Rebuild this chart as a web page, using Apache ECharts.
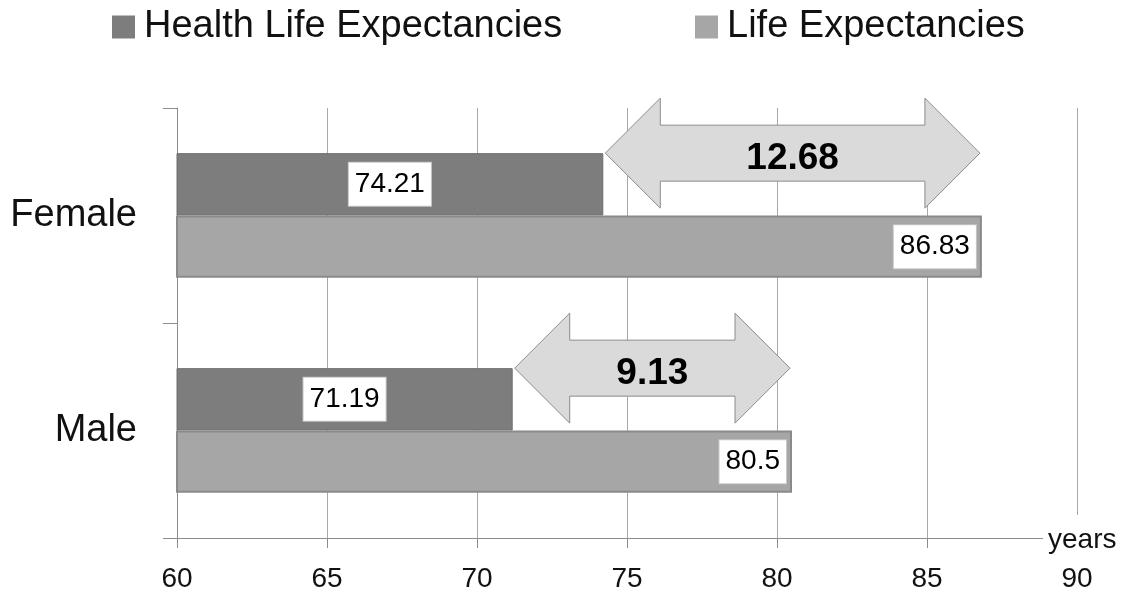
<!DOCTYPE html>
<html>
<head>
<meta charset="utf-8">
<script src="https://cdn.jsdelivr.net/npm/echarts@6/dist/echarts.min.js"></script>
<style>
  html, body { margin: 0; padding: 0; background: #ffffff; }
  #chart { width: 1141px; height: 594px; }
</style>
</head>
<body>
<div id="chart"></div>
<script>
// ---- data ----
const categories = ['Male', 'Female'];
const healthValues = [71.19, 74.21];
const lifeValues = [80.5, 86.83];
const gapLabels = ['9.13', '12.68'];
const seriesNames = ['Health Life Expectancies', 'Life Expectancies'];
const axisMin = 60;
const axisMax = 90;
const axisStep = 5;
const axisUnit = 'years';

// ---- styling ----
const FONT = '"Liberation Sans", Arial, sans-serif';
const TEXT = '#111111';
const DARK = '#7d7d7d';
const LIGHT = '#a6a6a6';
const BAR_CATEGORY_GAP = 0.42;
const GRID = { left: 177, right: 64, top: 108, bottom: 56 };

const chart = echarts.init(document.getElementById('chart'), null, { renderer: 'canvas' });

// Double-headed arrow spanning from the healthy-life value to the life value,
// centred on the top edge of the upper bar in each category.
function renderGapArrow(params, api) {
  const cat = api.value(0);
  const from = api.coord([api.value(1), cat]);
  const to = api.coord([api.value(2), cat]);
  const band = api.size([0, 1])[1];
  const barW = band * (1 - BAR_CATEGORY_GAP) / 2;
  const cy = from[1] - barW;
  const x0 = from[0] + 2;
  const x1 = to[0] - 2;
  const head = 55, headHalf = 55, shaftHalf = 28;
  const pts = [
    [x0, cy],
    [x0 + head, cy - headHalf],
    [x0 + head, cy - shaftHalf],
    [x1 - head, cy - shaftHalf],
    [x1 - head, cy - headHalf],
    [x1, cy],
    [x1 - head, cy + headHalf],
    [x1 - head, cy + shaftHalf],
    [x0 + head, cy + shaftHalf],
    [x0 + head, cy + headHalf]
  ];
  return {
    type: 'group',
    children: [
      {
        type: 'polygon',
        shape: { points: pts },
        style: { fill: '#dadada', stroke: '#8c8c8c', lineWidth: 1 }
      },
      {
        type: 'text',
        style: {
          text: gapLabels[params.dataIndex],
          x: (x0 + x1) / 2,
          y: cy + 6,
          align: 'center',
          verticalAlign: 'middle',
          font: 'bold 37px ' + FONT,
          fill: '#000000'
        }
      }
    ]
  };
}

const valueLabel = {
  show: true,
  color: '#000000',
  fontFamily: FONT,
  fontSize: 28,
  backgroundColor: '#ffffff',
  borderColor: '#c8c8c8',
  borderWidth: 1,
  padding: [8, 6, 7, 6]
};

const legendBase = {
  top: 8,
  padding: 0,
  icon: 'rect',
  itemWidth: 23,
  itemHeight: 23,
  itemStyle: { borderWidth: 0 },
  textStyle: { fontFamily: FONT, fontSize: 38, color: TEXT, padding: [0, 0, 0, 4] }
};

chart.setOption({
  backgroundColor: '#ffffff',
  animation: false,
  legend: [
    Object.assign({}, legendBase, { left: 112, data: [seriesNames[0]] }),
    Object.assign({}, legendBase, { left: 695, data: [seriesNames[1]] })
  ],
  grid: GRID,
  xAxis: {
    type: 'value',
    min: axisMin,
    max: axisMax,
    interval: axisStep,
    axisLine: { show: true, lineStyle: { color: '#8c8c8c', width: 1 } },
    axisTick: { show: true, length: 10, lineStyle: { color: '#8c8c8c' } },
    axisLabel: { margin: 27, fontFamily: FONT, fontSize: 28, color: TEXT },
    splitLine: { show: true, lineStyle: { color: '#a8a8a8', width: 1 } }
  },
  yAxis: {
    type: 'category',
    data: categories,
    axisLine: { show: true, lineStyle: { color: '#8c8c8c', width: 1 } },
    axisTick: { show: true, length: 14, lineStyle: { color: '#8c8c8c' } },
    axisLabel: { margin: 40, fontFamily: FONT, fontSize: 38, color: TEXT },
    splitLine: { show: false }
  },
  series: [
    {
      name: seriesNames[0],
      type: 'bar',
      data: healthValues,
      barGap: '0%',
      barCategoryGap: (BAR_CATEGORY_GAP * 100) + '%',
      itemStyle: { color: DARK, borderColor: '#6e6e6e', borderWidth: 1 },
      label: Object.assign({}, valueLabel, { position: 'inside' }),
      z: 2
    },
    {
      name: seriesNames[1],
      type: 'bar',
      data: lifeValues,
      barGap: '0%',
      barCategoryGap: (BAR_CATEGORY_GAP * 100) + '%',
      itemStyle: { color: LIGHT, borderColor: '#8a8a8a', borderWidth: 2 },
      label: Object.assign({}, valueLabel, { position: 'insideRight', distance: 6 }),
      z: 2
    },
    {
      name: 'gap',
      type: 'custom',
      renderItem: renderGapArrow,
      encode: { x: [1, 2], y: 0 },
      data: categories.map((c, i) => [i, healthValues[i], lifeValues[i]]),
      z: 5,
      silent: true
    }
  ]
});

// Unit caption at the end of the value axis, on a white patch over the axis end.
const xEnd = chart.convertToPixel({ xAxisIndex: 0 }, axisMax);
const axisY = 594 - GRID.bottom;
chart.setOption({
  graphic: [
    {
      type: 'rect',
      z: 100,
      shape: { x: xEnd - 34, y: axisY - 23, width: 1141 - (xEnd - 34), height: 46 },
      style: { fill: '#ffffff' }
    },
    {
      type: 'text',
      z: 101,
      style: {
        text: axisUnit,
        x: xEnd - 29,
        y: axisY + 2,
        align: 'left',
        verticalAlign: 'middle',
        font: '28px ' + FONT,
        fill: TEXT
      }
    }
  ]
});
</script>
</body>
</html>
